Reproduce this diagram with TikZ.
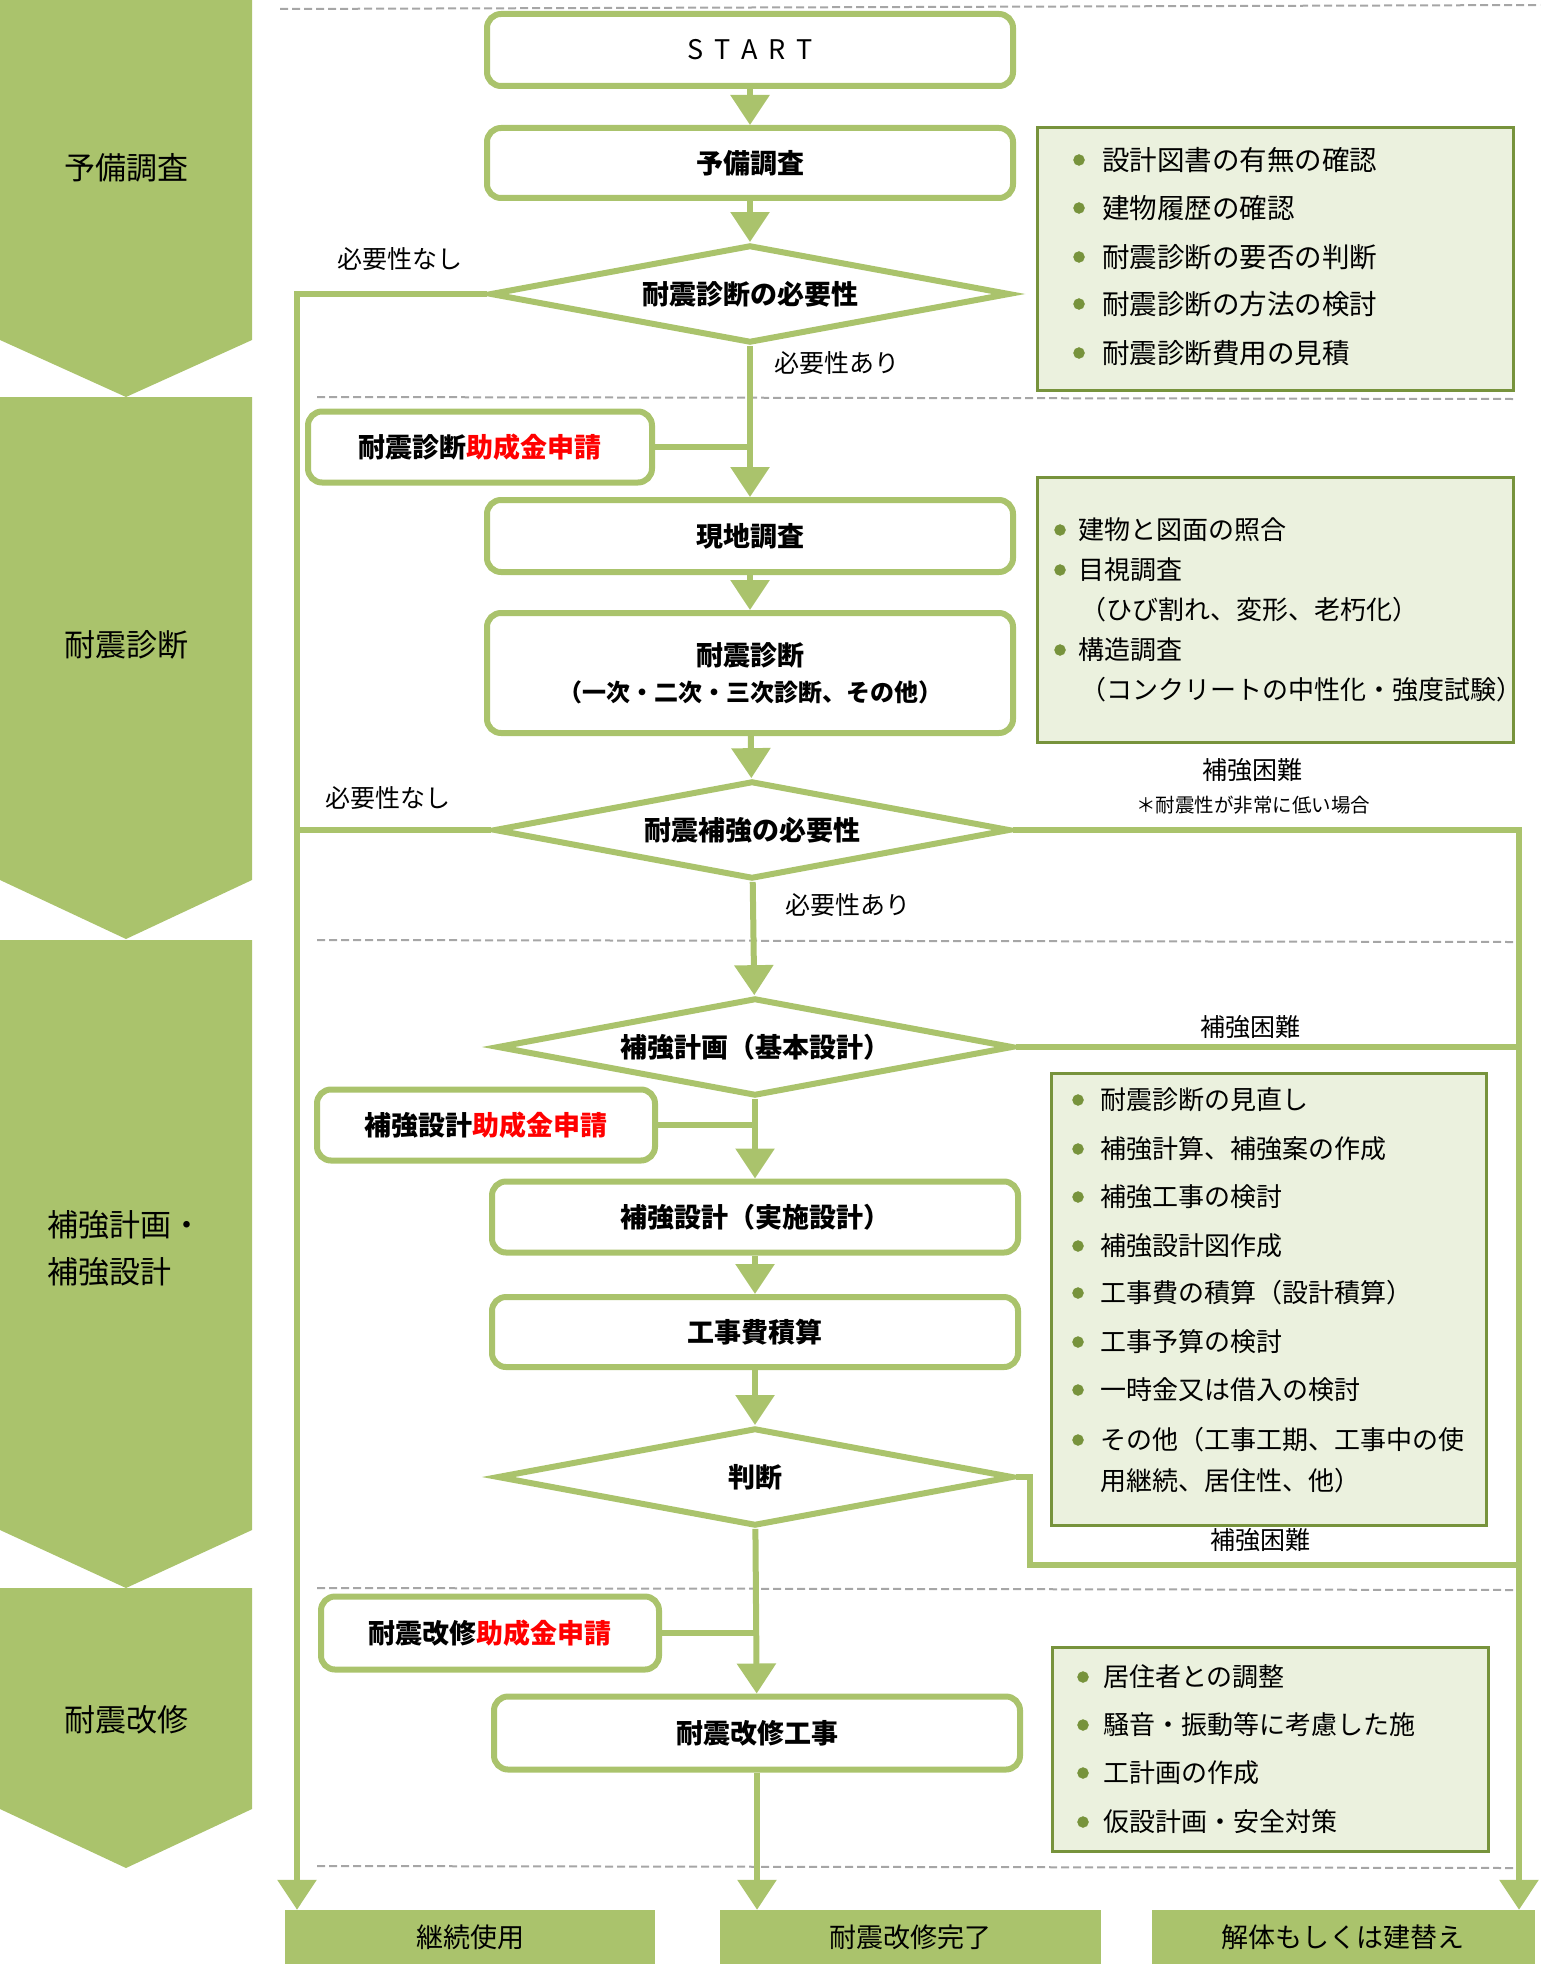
\documentclass[tikz,border=0pt]{standalone}
\usepackage{fontspec}
\setmainfont{Noto Sans CJK JP}
\usetikzlibrary{shapes.geometric,arrows.meta}

\definecolor{verde}{RGB}{170,195,108}
\definecolor{oliva}{RGB}{119,147,60}
\definecolor{claro}{RGB}{235,241,222}
\definecolor{tracejado}{RGB}{166,166,166}

\begin{document}
\begin{tikzpicture}[x=1pt,y=-1pt,
    caixa/.style={draw=verde, line width=6pt, rounded corners=14pt, fill=white, minimum width=526pt, inner sep=0pt, font=\fontsize{27}{32}\selectfont\bfseries},
    losango/.style={diamond, aspect=5.3, draw=verde, line width=6pt, fill=white, minimum width=516pt, minimum height=98pt, inner sep=0pt, font=\fontsize{27}{32}\selectfont\bfseries},
    quadro/.style={draw=oliva, line width=3pt, fill=claro},
    topico/.style={anchor=west, inner sep=0pt, font=\fontsize{26}{30}\selectfont},
    rotulo/.style={inner sep=0pt, font=\fontsize{25}{30}\selectfont},
    fase/.style={inner sep=0pt, font=\fontsize{31}{47}\selectfont},
    fim/.style={fill=verde, minimum height=54pt, inner sep=0pt, font=\fontsize{27}{32}\selectfont},
    seta/.style={draw=verde, line width=6pt, -{Triangle[width=38pt,length=30pt]}},
    linha/.style={draw=verde, line width=6pt},
    corte/.style={draw=tracejado, line width=2pt, dash pattern=on 8pt off 4pt}] %fluxo
            \useasboundingbox (0,0) rectangle (1540,1964);

            % faixa da esquerda
            \fill[verde] (0,0) -- (252,0) -- (252,340) -- (126,397) -- (0,340) -- cycle;
            \fill[verde] (0,397) -- (252,397) -- (252,880) -- (126,939) -- (0,880) -- cycle;
            \fill[verde] (0,940) -- (252,940) -- (252,1530) -- (126,1588) -- (0,1530) -- cycle;
            \fill[verde] (0,1588) -- (252,1588) -- (252,1809) -- (126,1868) -- (0,1809) -- cycle;
            \node[fase] (f1) at (126,168) {予備調査};
            \node[fase] (f2) at (126,645) {耐震診断};
            \node[fase, anchor=west, align=left] (f3) at (47,1248) {補強計画・\\補強設計};
            \node[fase] (f4) at (126,1720) {耐震改修};

            \draw[corte] (280,9) -- (1540,5);
            \draw[corte] (317,397) -- (1513,399);
            \draw[corte] (317,940) -- (1513,942);
            \draw[corte] (317,1588) -- (1513,1590);
            \draw[corte] (317,1866) -- (1513,1868);

            % quadros da direita
            \node[quadro, minimum width=476pt, minimum height=262pt] (lista1) at (1275,259) {};
            \node[quadro, minimum width=476pt, minimum height=265pt] (lista2) at (1275,610) {};
            \node[quadro, minimum width=435pt, minimum height=452pt] (lista3) at (1269,1299) {};
            \node[quadro, minimum width=436pt, minimum height=204pt] (lista4) at (1270,1749) {};

            \node[topico, font=\fontsize{27.5}{32}\selectfont] (a1) at (1102,160) {設計図書の有無の確認};
            \node[topico, font=\fontsize{27.5}{32}\selectfont] (a2) at (1102,208) {建物履歴の確認};
            \node[topico, font=\fontsize{27.5}{32}\selectfont] (a3) at (1102,257) {耐震診断の要否の判断};
            \node[topico, font=\fontsize{27.5}{32}\selectfont] (a4) at (1102,304) {耐震診断の方法の検討};
            \node[topico, font=\fontsize{27.5}{32}\selectfont] (a5) at (1102,353) {耐震診断費用の見積};
            \filldraw[oliva] (1079,160) circle (5.5pt);
            \filldraw[oliva] (1079,208) circle (5.5pt);
            \filldraw[oliva] (1079,257) circle (5.5pt);
            \filldraw[oliva] (1079,304) circle (5.5pt);
            \filldraw[oliva] (1079,353) circle (5.5pt);

            \node[topico] (b1) at (1078,530) {建物と図面の照合};
            \node[topico] (b2) at (1078,570) {目視調査};
            \node[topico] (b3) at (1080,610) {（ひび割れ、変形、老朽化）};
            \node[topico] (b4) at (1078,650) {構造調査};
            \node[topico] (b5) at (1080,690) {（コンクリートの中性化・強度試験）};
            \filldraw[oliva] (1060,530) circle (5.5pt);
            \filldraw[oliva] (1060,570) circle (5.5pt);
            \filldraw[oliva] (1060,650) circle (5.5pt);

            \node[topico] (c1) at (1100,1100) {耐震診断の見直し};
            \node[topico] (c2) at (1100,1149) {補強計算、補強案の作成};
            \node[topico] (c3) at (1100,1197) {補強工事の検討};
            \node[topico] (c4) at (1100,1246) {補強設計図作成};
            \node[topico] (c5) at (1100,1293) {工事費の積算（設計積算）};
            \node[topico] (c6) at (1100,1342) {工事予算の検討};
            \node[topico] (c7) at (1100,1390) {一時金又は借入の検討};
            \node[topico] (c8) at (1100,1440) {その他（工事工期、工事中の使};
            \node[topico] (c9) at (1100,1481) {用継続、居住性、他）};
            \filldraw[oliva] (1078,1100) circle (5.5pt);
            \filldraw[oliva] (1078,1149) circle (5.5pt);
            \filldraw[oliva] (1078,1197) circle (5.5pt);
            \filldraw[oliva] (1078,1246) circle (5.5pt);
            \filldraw[oliva] (1078,1293) circle (5.5pt);
            \filldraw[oliva] (1078,1342) circle (5.5pt);
            \filldraw[oliva] (1078,1390) circle (5.5pt);
            \filldraw[oliva] (1078,1440) circle (5.5pt);

            \node[topico] (d1) at (1103,1677) {居住者との調整};
            \node[topico] (d2) at (1103,1725) {騒音・振動等に考慮した施};
            \node[topico] (d3) at (1103,1773) {工計画の作成};
            \node[topico] (d4) at (1103,1822) {仮設計画・安全対策};
            \filldraw[oliva] (1083,1677) circle (5.5pt);
            \filldraw[oliva] (1083,1725) circle (5.5pt);
            \filldraw[oliva] (1083,1773) circle (5.5pt);
            \filldraw[oliva] (1083,1822) circle (5.5pt);

            % fluxo principal
            \node[caixa, minimum height=72pt, font=\fontsize{27}{32}\selectfont] (start) at (750,50) {S\hspace{11pt}T\hspace{11pt}A\hspace{11pt}R\hspace{11pt}T};
            \node[caixa, minimum height=70pt] (yobi) at (750,163) {予備調査};
            \node[losango, minimum width=520pt] (dia1) at (750,294) {耐震診断の必要性};
            \node[caixa, minimum width=344pt, minimum height=71pt] (josei1) at (480,447) {耐震診断\textcolor{red}{助成金申請}};
            \node[caixa, minimum height=72pt] (genchi) at (750,536) {現地調査};
            \node[caixa, minimum height=120pt, align=center, font=\fontsize{27}{36}\selectfont\bfseries] (shindan) at (750,673) {耐震診断\\{\fontsize{24}{36}\selectfont （一次・二次・三次診断、その他）}};
            \node[losango] (dia2) at (752,830) {耐震補強の必要性};
            \node[losango] (dia3) at (755,1047) {補強計画（基本設計）};
            \node[caixa, minimum width=338pt, minimum height=71pt] (josei2) at (486,1125) {補強設計\textcolor{red}{助成金申請}};
            \node[caixa, minimum height=71pt] (hokyo) at (755,1217) {補強設計（実施設計）};
            \node[caixa, minimum height=70pt] (koji) at (755,1332) {工事費積算};
            \node[losango] (handan) at (755,1477) {判断};
            \node[caixa, minimum width=338pt, minimum height=73pt] (josei3) at (490,1633) {耐震改修\textcolor{red}{助成金申請}};
            \node[caixa, minimum height=73pt] (kaishu) at (757,1733) {耐震改修工事};

            \node[fim, minimum width=370pt] (keizoku) at (470,1937) {継続使用};
            \node[fim, minimum width=381pt] (kanryo) at (910,1937) {耐震改修完了};
            \node[fim, minimum width=383pt] (kaitai) at (1343,1937) {解体もしくは建替え};

            \coordinate (esq) at (297,0);
            \coordinate (dir) at (1519,0);
            \coordinate (volta) at (1030,1565);

            \draw[seta] (start) -- (yobi);
            \draw[seta] (yobi) -- (dia1);
            \draw[seta] (dia1) -- (genchi);
            \draw[linha] (josei1) -- (josei1 -| genchi);
            \draw[seta] (genchi) -- (shindan);
            \draw[seta] (shindan) -- (dia2);
            \draw[seta] (dia2) -- (dia3);
            \draw[linha] (josei2) -- (josei2 -| hokyo);
            \draw[seta] (dia3) -- (hokyo);
            \draw[seta] (hokyo) -- (koji);
            \draw[seta] (koji) -- (handan);
            \draw[linha] (josei3) -- (josei3 -| kaishu);
            \draw[seta] (handan) -- (kaishu);
            \draw[seta] (kaishu) -- (kaishu |- kanryo.north);
            \draw[seta] (dia1.west) -| (esq |- keizoku.north);
            \draw[linha] (dia2.west) -- (dia2.west -| esq);
            \draw[seta] (dia2.east) -| (dir |- kaitai.north);
            \draw[linha] (dia3.east) -- (dia3.east -| dir);
            \draw[linha] (handan.east) -| (volta) -- (volta -| dir);

            \node[rotulo] (nao1) at (400,259) {必要性なし};
            \node[rotulo] (sim1) at (837,363) {必要性あり};
            \node[rotulo] (nao2) at (388,798) {必要性なし};
            \node[rotulo] (sim2) at (848,905) {必要性あり};
            \node[rotulo] (dif1) at (1252,770) {補強困難};
            \node[rotulo, font=\fontsize{19.5}{24}\selectfont] (obs) at (1253,805) {＊耐震性が非常に低い場合};
            \node[rotulo] (dif2) at (1250,1027) {補強困難};
            \node[rotulo] (dif3) at (1260,1540) {補強困難};
        \end{tikzpicture}
\end{document}
